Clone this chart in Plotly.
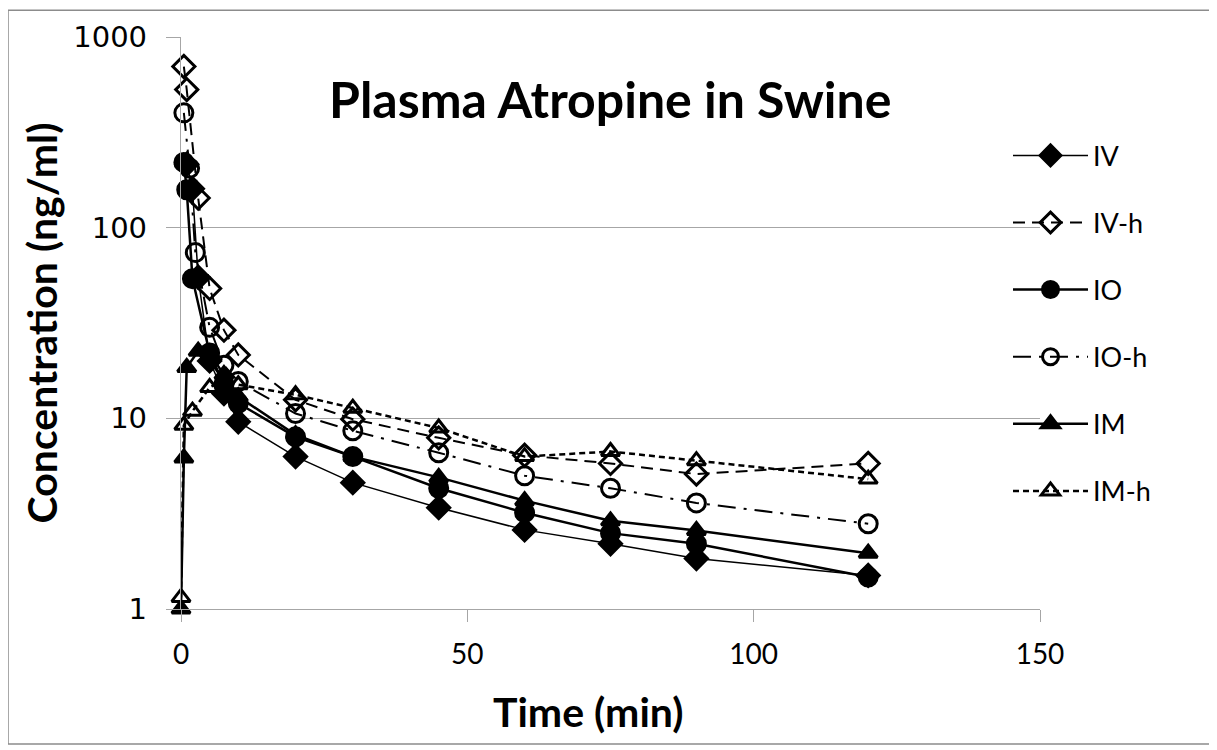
import plotly.graph_objects as go

# ---- data ----
series_names = ["IV", "IV-h", "IO", "IO-h", "IM", "IM-h"]

t_iv = [1, 2, 3, 5, 7.5, 10, 20, 30, 45, 60, 75, 90, 120]
c_iv = [215, 160, 55, 20, 13.5, 9.6, 6.3, 4.6, 3.4, 2.6, 2.2, 1.84, 1.5]

t_ivh = [0.5, 1, 3, 5, 7.5, 10, 20, 30, 45, 60, 75, 90, 120]
c_ivh = [700, 530, 143, 48, 29, 21.5, 12.5, 9.9, 7.9, 6.4, 5.8, 5.1, 5.8]

t_io = [0.5, 1, 2, 5, 7.5, 10, 20, 30, 45, 60, 75, 90, 120]
c_io = [220, 158, 54, 22, 15, 12, 8.0, 6.3, 4.3, 3.2, 2.5, 2.2, 1.47]

t_ioh = [0.5, 1.5, 2.5, 5, 7.5, 10, 20, 30, 45, 60, 75, 90, 120]
c_ioh = [400, 205, 74, 30, 19, 15.6, 10.6, 8.6, 6.6, 5.0, 4.3, 3.6, 2.8]

t_im = [0, 0.5, 1, 3, 5, 7.5, 10, 20, 30, 45, 60, 75, 90, 120]
c_im = [1, 6.2, 18.5, 22.5, 22, 17, 13, 8.2, 6.3, 4.9, 3.7, 2.9, 2.58, 1.96]

t_imh = [0, 0.5, 2, 5, 7.5, 10, 20, 30, 45, 60, 75, 90, 120]
c_imh = [1.15, 9.2, 10.9, 14.5, 16, 15, 13.3, 11.3, 8.9, 6.3, 6.7, 6.0, 4.8]

x_ticks = [0, 50, 100, 150]
y_ticks = [1, 10, 100, 1000]
y_ticktext = ["1", "10", "100", "1000"]

title_text = "Plasma Atropine in Swine"
x_title = "Time (min)"
y_title = "Concentration (ng/ml)"

# ---- layout geometry (page pixels; page body has an 8px margin) ----
OFF = 8
W, H = 1209, 742
PL, PR, PT, PB = 181, 1040, 33, 609          # plot area in page pixels
PW, PH = PR - PL, PB - PT
ML, MT = PL - OFF, PT - OFF
MR, MB = W - ML - PW, H - MT - PH


def px(xp):
    return (xp - PL) / PW


def py(yp):
    return (PB - yp) / PH


styles = [
    dict(t=t_iv, c=c_iv, sym="diamond", size=17, lw=1.5, dash="solid"),
    dict(t=t_ivh, c=c_ivh, sym="diamond-open", size=17, lw=2, dash="12px,7px"),
    dict(t=t_io, c=c_io, sym="circle", size=18, lw=2.5, dash="solid"),
    dict(t=t_ioh, c=c_ioh, sym="circle-open", size=18, lw=2, dash="18px,8px,3px,8px"),
    dict(t=t_im, c=c_im, sym="triangle-up", size=16, lw=2.5, dash="solid"),
    dict(t=t_imh, c=c_imh, sym="triangle-up-open", size=16, lw=2.5, dash="6px,4px"),
]

fig = go.Figure()
for name, s in zip(series_names, styles):
    fig.add_trace(go.Scatter(
        x=s["t"], y=s["c"], name=name, mode="lines+markers",
        legendgroup=name,
        line=dict(color="black", width=s["lw"], dash=s["dash"]),
        marker=dict(symbol=s["sym"], size=s["size"], color="black",
                    line=dict(color="black", width=3)),
        cliponaxis=False,
    ))

grid = "#a6a6a6"
fig.update_layout(
    width=W, height=H,
    margin=dict(l=ML, r=MR, t=MT, b=MB),
    paper_bgcolor="white", plot_bgcolor="white",
    showlegend=True,
    legend=dict(x=px(1008), xanchor="left", y=py(128), yanchor="top",
                font=dict(family="Lato", size=27, color="black"),
                tracegroupgap=29, bgcolor="rgba(0,0,0,0)", itemwidth=75),
    font=dict(family="Lato", color="black"),
    annotations=[
        dict(text="<b>" + title_text + "</b>", x=px(610), y=py(95),
             xref="paper", yref="paper", xanchor="center", yanchor="middle",
             showarrow=False, font=dict(family="Lato", size=50, color="black")),
        dict(text="<b>" + x_title + "</b>", x=px(588), y=py(712),
             xref="paper", yref="paper", xanchor="center", yanchor="middle",
             showarrow=False, font=dict(family="Lato", size=41, color="black")),
    ],
    shapes=[
        dict(type="rect", xref="paper", yref="paper",
             x0=px(8), x1=px(1210), y0=py(745), y1=py(6),
             line=dict(color="#8c8c8c", width=1.5), fillcolor="rgba(0,0,0,0)", layer="below"),
    ],
)

fig.update_xaxes(
    range=[0, 150], tickvals=x_ticks, ticks="outside", ticklen=12, tickcolor=grid,
    tickwidth=1.3, showline=True, linecolor=grid, linewidth=1.3, showgrid=False,
    zeroline=False, tickfont=dict(family="Lato", size=28, color="black"),
    ticklabelstandoff=8,
)
fig.update_yaxes(
    type="log", range=[0, 3], tickvals=y_ticks, ticktext=y_ticktext, ticks="outside",
    ticklen=14, tickcolor=grid, tickwidth=1.3, showline=True, linecolor=grid,
    linewidth=1.3, showgrid=True, gridcolor=grid, gridwidth=1.3, zeroline=False,
    tickfont=dict(family="DejaVu Sans", size=29, color="black"),
    ticklabelstandoff=13,
    title=dict(text="<b>" + y_title + "</b>", font=dict(family="Lato", size=41, color="black"),
               standoff=2),
)

fig.write_html("out.html")
